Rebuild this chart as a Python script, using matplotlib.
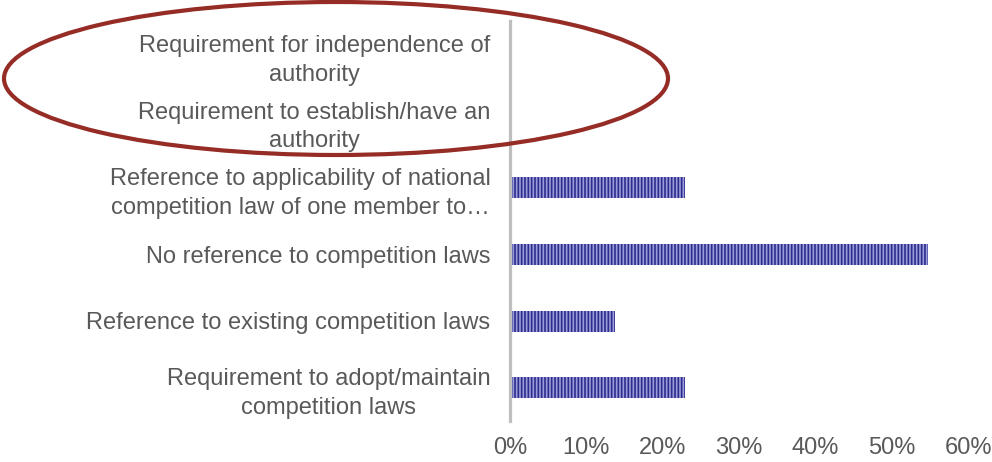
import matplotlib
matplotlib.use("Agg")
import matplotlib.pyplot as plt
from matplotlib.patches import Ellipse
from matplotlib.ticker import FuncFormatter

plt.rcParams['font.family'] = ['Liberation Sans', 'DejaVu Sans']
plt.rcParams['hatch.linewidth'] = 1.2
plt.rcParams['hatch.color'] = '#2d2d8c'

# Categories listed bottom to top
categories = [
    "Requirement to adopt/maintain\ncompetition laws",
    "Reference to existing competition laws",
    "No reference to competition laws",
    "Reference to applicability of national\ncompetition law of one member to\u2026",
    "Requirement to establish/have an\nauthority",
    "Requirement for independence of\nauthority",
]
shares = [0.229, 0.138, 0.548, 0.229, 0.0, 0.0]
x_ticks = [0, 0.1, 0.2, 0.3, 0.4, 0.5, 0.6]

W, H = 992, 462
fig = plt.figure(figsize=(W / 100, H / 100), dpi=100)
ax = fig.add_axes([510 / W, 1 - 421 / H, (968 - 510) / W, 400 / H])

ypos = list(range(len(categories)))
ax.barh(ypos, shares, height=0.315, color='#9c9cdc', edgecolor='#2d2d8c',
        linewidth=0, hatch='|||||')

ax.set_xlim(0, 0.6)
ax.set_ylim(-0.5, len(categories) - 0.5)
ax.set_xticks(x_ticks)
ax.xaxis.set_major_formatter(FuncFormatter(lambda v, p: f"{v * 100:.0f}%"))
ax.set_yticks(ypos)
ax.set_yticklabels(categories, multialignment='center', linespacing=1.4)

text_col = '#595959'
ax.tick_params(axis='x', length=0, pad=11.5, labelsize=17, labelcolor=text_col)
ax.tick_params(axis='y', length=0, pad=14, labelsize=17, labelcolor=text_col)

for side in ['top', 'right', 'bottom']:
    ax.spines[side].set_visible(False)
ax.spines['left'].set_color('#bfbfbf')
ax.spines['left'].set_linewidth(2.3)

# Highlight ring around the two authority-related rows
ring = Ellipse((336 / W, 1 - 78.5 / H), 664 / W, 153 / H,
               transform=fig.transFigure, fill=False,
               edgecolor='#962c26', linewidth=3.0, clip_on=False)
fig.patches.append(ring)

fig.savefig("out.png", dpi=100)
